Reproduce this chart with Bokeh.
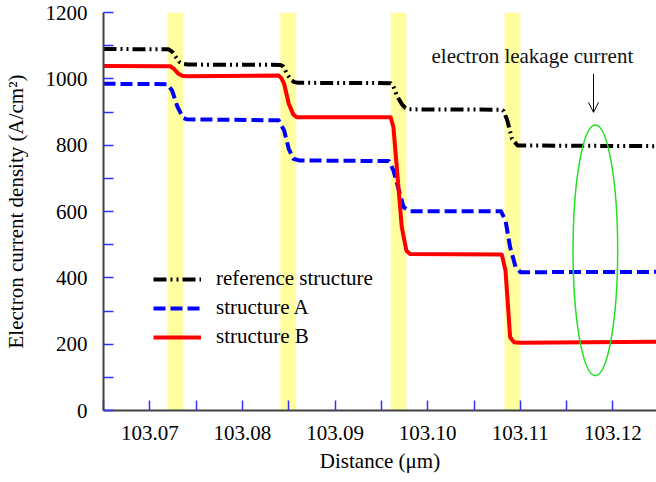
from bokeh.plotting import figure
from bokeh.models import (Range1d, FixedTicker, PrintfTickFormatter, Legend, LegendItem,
                          Label, Arrow, OpenHead)
from bokeh.embed import file_html
from bokeh.resources import INLINE

# --- data -------------------------------------------------------------------
# reference structure (dash-dot-dot, black)
ref_x = [103.0650, 103.0720, 103.0724, 103.0728, 103.0732, 103.0736, 103.0741,
         103.0841, 103.0844, 103.0848, 103.0852, 103.0856, 103.0860,
         103.0960, 103.0963, 103.0967, 103.0972, 103.0976, 103.0980,
         103.1080, 103.1082, 103.1086, 103.1091, 103.1097, 103.1247]
ref_y = [1090, 1089, 1082, 1066, 1051, 1045, 1043,
         1042, 1037, 1016, 998, 990, 988,
         987, 976, 948, 924, 912, 908,
         907, 903, 874, 819, 799, 797]

# structure A (dashed, blue)
a_x = [103.0650, 103.0719, 103.0724, 103.0730, 103.0736, 103.0740,
       103.0839, 103.0845, 103.0850, 103.0855, 103.0861,
       103.0958, 103.0963, 103.0969, 103.0974, 103.0981,
       103.1079, 103.1084, 103.1089, 103.1095, 103.1100, 103.1247]
a_y = [985, 984, 965, 915, 882, 878,
       875, 844, 789, 759, 754,
       752, 724, 663, 613, 601,
       601, 573, 492, 432, 417, 418]

# structure B (solid, red)
b_x = [103.0650, 103.0722, 103.0726, 103.0731, 103.0735, 103.0740,
       103.0839, 103.0842, 103.0845, 103.0850, 103.0855, 103.0859,
       103.0960, 103.0963, 103.0972, 103.0977, 103.0981,
       103.1080, 103.1084, 103.1087, 103.1089, 103.1093, 103.1100, 103.1247]
b_y = [1039, 1038, 1030, 1015, 1009, 1008,
       1010, 1002, 985, 925, 892, 884,
       884, 854, 553, 482, 472,
       470, 422, 301, 221, 206, 204, 207]

# barrier regions (highlighted bands)
band_left = [103.0719, 103.0841, 103.0960, 103.1083]
band_right = [103.0736, 103.0858, 103.0977, 103.1100]

x_major = [103.07, 103.08, 103.09, 103.10, 103.11, 103.12]
x_minor = [103.065, 103.075, 103.085, 103.095, 103.105, 103.115, 103.125]
y_major = [0, 200, 400, 600, 800, 1000, 1200]
y_minor = [100, 300, 500, 700, 900, 1100]

# leakage marker: ellipse and arrow
ell_x, ell_y, ell_w, ell_h = 103.1181, 483, 0.00482, 756
arrow_x, arrow_y0, arrow_y1 = 103.1179, 1015, 899
note_x, note_y = 103.1113, 1068

FONT = "'Liberation Serif', 'Times New Roman', serif"
FS = "21px"

p = figure(width=656, height=482, output_backend="svg", toolbar_location=None,
           x_range=Range1d(103.065, 103.1247), y_range=Range1d(0, 1200),
           min_border_left=103, min_border_right=0, min_border_top=12,
           min_border_bottom=72)
p.outline_line_color = None
p.xgrid.visible = False
p.ygrid.visible = False
p.background_fill_color = "white"
p.border_fill_color = "white"

# bands
p.quad(left=band_left, right=band_right, bottom=0, top=1200,
       fill_color="#FFFFA0", line_color=None)

r_ref = p.line(ref_x, ref_y, line_color="black", line_width=4,
               line_dash="13 4 2 4 2 4", line_join="round")
r_a = p.line(a_x, a_y, line_color="#0000FF", line_width=4,
             line_dash="12 5", line_join="round")
r_b = p.line(b_x, b_y, line_color="#FF0000", line_width=4, line_join="round")

p.ellipse(x=[ell_x], y=[ell_y], width=[ell_w], height=[ell_h],
          fill_color=None, line_color="#22E022", line_width=1.5)

p.add_layout(Arrow(end=OpenHead(size=10, line_width=1, line_color="black"),
                   x_start=arrow_x, y_start=arrow_y0, x_end=arrow_x, y_end=arrow_y1,
                   line_width=1, line_color="black"))
p.add_layout(Label(x=note_x, y=note_y, text="electron leakage current",
                   text_align="center", text_baseline="alphabetic",
                   text_font=FONT, text_font_size=FS, text_color="#111111"))

# axes
for ax in (p.xaxis[0], p.yaxis[0]):
    ax.axis_line_color = "#404040"
    ax.axis_line_width = 2
    ax.major_tick_in = 10
    ax.major_tick_out = 0
    ax.minor_tick_in = 10
    ax.minor_tick_out = 0
    ax.major_tick_line_color = "#3030FF"
    ax.minor_tick_line_color = "#3030FF"
    ax.major_tick_line_width = 1.5
    ax.minor_tick_line_width = 1.5
    ax.major_label_text_font = FONT
    ax.major_label_text_font_size = FS
    ax.major_label_text_color = "black"
    ax.axis_label_text_font = FONT
    ax.axis_label_text_font_size = FS
    ax.axis_label_text_font_style = "normal"
    ax.axis_label_text_color = "black"

p.xaxis.ticker = FixedTicker(ticks=x_major, minor_ticks=x_minor)
p.xaxis.formatter = PrintfTickFormatter(format="%.2f")
p.xaxis.axis_label = "Distance (\u03bcm)"
p.xaxis.major_label_standoff = 15
p.xaxis.axis_label_standoff = 6

p.yaxis.ticker = FixedTicker(ticks=y_major, minor_ticks=y_minor)
p.yaxis.axis_label = "Electron current density (A/cm\u00b2)"
p.yaxis.major_label_standoff = 16
p.yaxis.axis_label_standoff = 15

legend = Legend(items=[LegendItem(label="reference structure", renderers=[r_ref]),
                       LegendItem(label="structure A", renderers=[r_a]),
                       LegendItem(label="structure B", renderers=[r_b])],
                location=(50, 61), padding=0, margin=0, spacing=4,
                glyph_width=48, glyph_height=20, label_height=20,
                label_standoff=15, border_line_color=None,
                background_fill_alpha=0,
                label_text_font=FONT, label_text_font_size=FS,
                label_text_color="black")
p.add_layout(legend)

open("out.html", "w").write(file_html(p, INLINE))
